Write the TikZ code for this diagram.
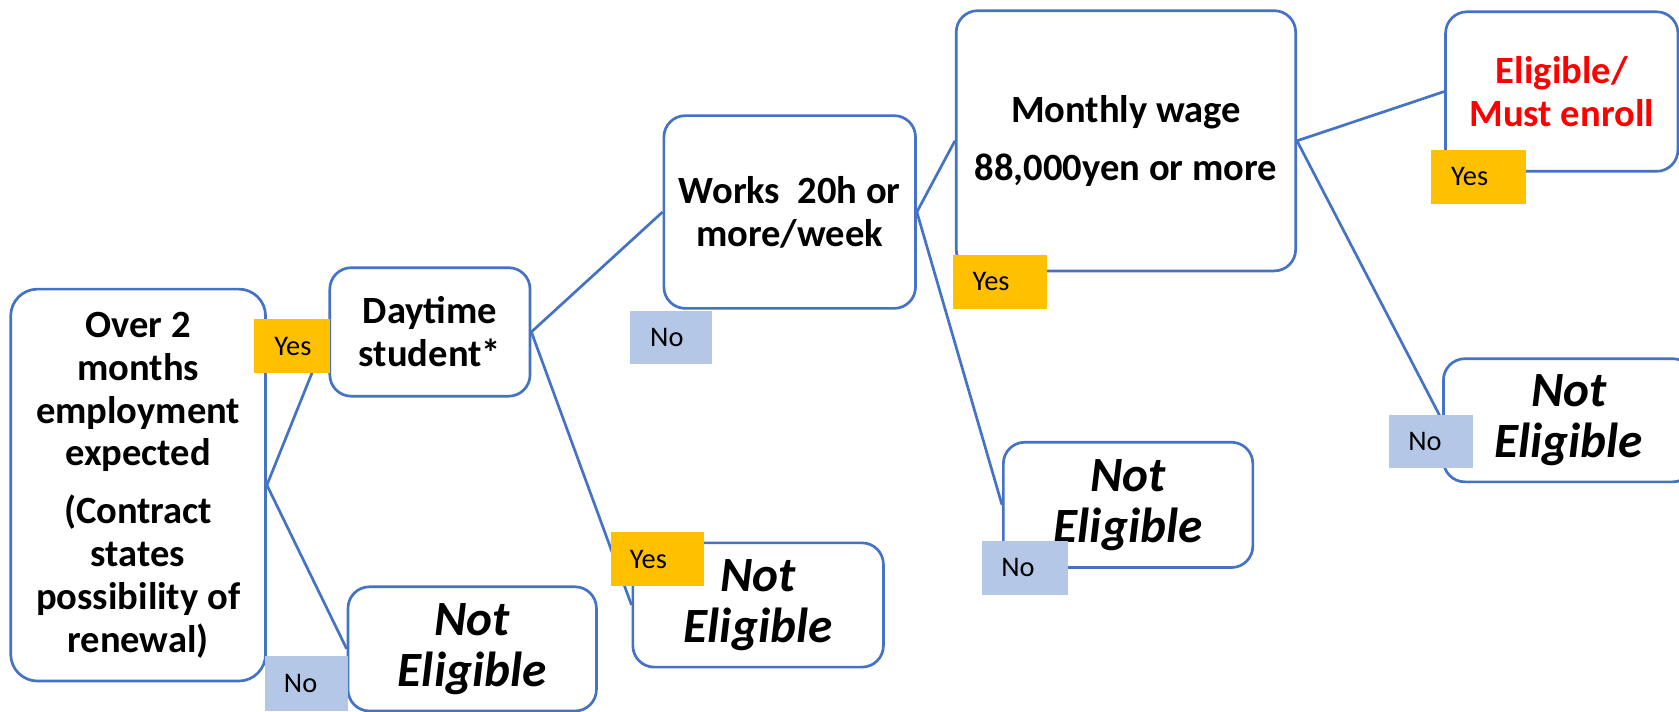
\documentclass[tikz,border=0pt]{standalone}
\usepackage{fontspec}
\setmainfont{Carlito}
\definecolor{lineblue}{HTML}{4472C4}
\definecolor{yesorange}{HTML}{FFC000}
\definecolor{noblue}{HTML}{B4C7E7}
\definecolor{eligred}{HTML}{FF0000}
\begin{document}
\begin{tikzpicture}[x=1pt,y=-1pt,
 box/.style={draw=lineblue, line width=2.5pt, fill=white, rounded corners=20pt, align=center, inner sep=0pt},
 q/.style={box, font=\fontsize{36}{40}\selectfont\bfseries},
 ne/.style={box, font=\fontsize{46}{48}\selectfont\bfseries\itshape},
 conn/.style={draw=lineblue, line width=2.5pt},
 lab/.style={inner sep=0pt, minimum height=50pt, anchor=north west, align=left, font=\fontsize{26.5}{28}\selectfont},
 yes/.style={lab, fill=yesorange},
 no/.style={lab, fill=noblue}]
\useasboundingbox (0,0) rectangle (1568,664);
\clip (0,0) rectangle (1568,664);
\fill[white] (0,0) rectangle (1568,664);
% boxes
\node[q, minimum width=238pt, minimum height=366pt, rounded corners=25pt] (A) at (129,453) {Over 2\\months\\employment\\expected\\[14pt](Contract\\states\\possibility of\\renewal)};
\node[q, minimum width=187pt, minimum height=120pt] (B) at (401.5,310) {Daytime\\student*};
\node[q, minimum width=235pt, minimum height=180pt] (C) at (737.5,198) {Works\ \ 20h or\\more/week};
\node[q, minimum width=317pt, minimum height=243pt] (D) at (1051.5,131.5) {Monthly wage\\[14pt]88,000yen or more};
\node[q, minimum width=217pt, minimum height=149pt, text=eligred] (E) at (1458.5,85.5) {Eligible/\\Must enroll};
\node[ne, minimum width=234pt, minimum height=115pt] (F) at (1465,392.5) {Not\\Eligible};
\node[ne, minimum width=233pt, minimum height=117pt] (G) at (1053.5,471.5) {Not\\Eligible};
\node[ne, minimum width=234pt, minimum height=116pt] (H) at (708,565) {Not\\Eligible};
\node[ne, minimum width=232pt, minimum height=116pt] (I) at (441,606) {Not\\Eligible};
% connectors
\draw[conn] (A.east) -- (B.west);
\draw[conn] (A.east) -- (I.west);
\draw[conn] (B.east) -- (C.west);
\draw[conn] (B.east) -- (H.west);
\draw[conn] (C.east) -- (D.west);
\draw[conn] (C.east) -- (G.west);
\draw[conn] (D.east) -- (E.west);
\draw[conn] (D.east) -- (F.west);
% labels
\node[yes, text width=71pt] (y1) at (237,298) {\hspace*{19pt}\raisebox{-2pt}{Yes}};
\node[no, text width=78pt, minimum height=52pt] (n1) at (247,612) {\hspace*{18pt}\raisebox{-2pt}{No}};
\node[yes, text width=87pt] (y2) at (570,497) {\hspace*{18pt}\raisebox{-2pt}{Yes}};
\node[no, text width=77pt] (n2) at (588,290) {\hspace*{19pt}\raisebox{-2pt}{No}};
\node[yes, text width=88pt] (y3) at (890,238) {\hspace*{18pt}\raisebox{-2pt}{Yes}};
\node[no, text width=80pt] (n3) at (917,505) {\hspace*{18pt}\raisebox{-2pt}{No}};
\node[yes, text width=89pt] (y4) at (1336,140) {\hspace*{19pt}\raisebox{-2pt}{Yes}};
\node[no, text width=78pt] (n4) at (1297,387) {\hspace*{18pt}\raisebox{-2pt}{No}};
\end{tikzpicture}
\end{document}
